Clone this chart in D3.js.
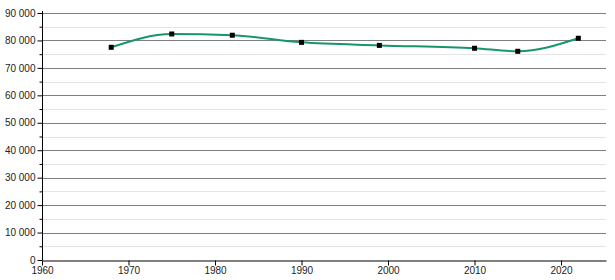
<!DOCTYPE html>
<html>
<head>
<meta charset="utf-8">
<script src="https://cdn.jsdelivr.net/npm/d3@7"></script>
<style>
  body { margin: 0; background: #fff; }
  svg text { font-family: "Liberation Sans", Arial, sans-serif; font-size: 10px; fill: #222; }
</style>
</head>
<body>
<div id="chart"></div>
<script>
// Census years and population
const years = [1968, 1975, 1982, 1990, 1999, 2010, 2015, 2022];
const population = [77500, 82350, 81900, 79300, 78200, 77150, 76050, 80800];
const yTicks = [0, 10000, 20000, 30000, 40000, 50000, 60000, 70000, 80000, 90000];
const xTicks = [1960, 1970, 1980, 1990, 2000, 2010, 2020];

const width = 615;
const height = 280;
const margin = { top: 13, right: 9, bottom: 20, left: 42 };

const x = d3.scaleLinear()
  .domain([1960, 2025.2])
  .range([margin.left, width - margin.right]);

const y = d3.scaleLinear()
  .domain([0, 90000])
  .range([height - margin.bottom, margin.top]);

const svg = d3.select("#chart")
  .append("svg")
    .attr("width", width)
    .attr("height", height);

const fmt = v => d3.format(",")(v).replace(/,/g, " ");

// minor grid (every 5000)
const minor = d3.range(5000, 90000, 10000);
svg.append("g")
  .selectAll("line")
  .data(minor)
  .join("line")
    .attr("x1", margin.left)
    .attr("x2", width - margin.right)
    .attr("y1", d => Math.round(y(d)) + 0.5)
    .attr("y2", d => Math.round(y(d)) + 0.5)
    .attr("stroke", "#e4e4e4");

// major grid
svg.append("g")
  .selectAll("line")
  .data(yTicks.slice(1))
  .join("line")
    .attr("x1", margin.left)
    .attr("x2", width - margin.right)
    .attr("y1", d => Math.round(y(d)) + 0.5)
    .attr("y2", d => Math.round(y(d)) + 0.5)
    .attr("stroke", "#7f7f7f");

// y axis
const yAxis = svg.append("g")
  .attr("transform", `translate(${margin.left + 0.5},0)`)
  .call(d3.axisLeft(y).tickValues(yTicks).tickFormat(fmt).tickSize(5).tickPadding(2));
yAxis.select(".domain").attr("d", `M0,${y(90000) - 2}V${y(0)}`);
yAxis.selectAll("text").style("font-size", "10px");

svg.append("g")
  .attr("transform", `translate(${margin.left + 0.5},0)`)
  .call(d3.axisLeft(y).tickValues(minor).tickFormat("").tickSize(3))
  .select(".domain").remove();

// x axis
const xAxis = svg.append("g")
  .attr("transform", `translate(0,${Math.round(y(0)) + 0.5})`)
  .call(d3.axisBottom(x).tickValues(xTicks).tickFormat(d3.format("d")).tickSize(5).tickPadding(1).tickSizeOuter(0));
xAxis.selectAll("text").style("font-size", "10px");

// line
const line = d3.line()
  .x((d, i) => x(years[i]))
  .y(d => y(d))
  .curve(d3.curveMonotoneX);

svg.append("path")
  .datum(population)
  .attr("fill", "none")
  .attr("stroke", "#17956f")
  .attr("stroke-width", 2)
  .attr("d", line);

// markers
svg.append("g")
  .selectAll("rect")
  .data(population)
  .join("rect")
    .attr("x", (d, i) => x(years[i]) - 2.5)
    .attr("y", d => y(d) - 2.5)
    .attr("width", 5)
    .attr("height", 5)
    .attr("fill", "#000");
</script>
</body>
</html>
